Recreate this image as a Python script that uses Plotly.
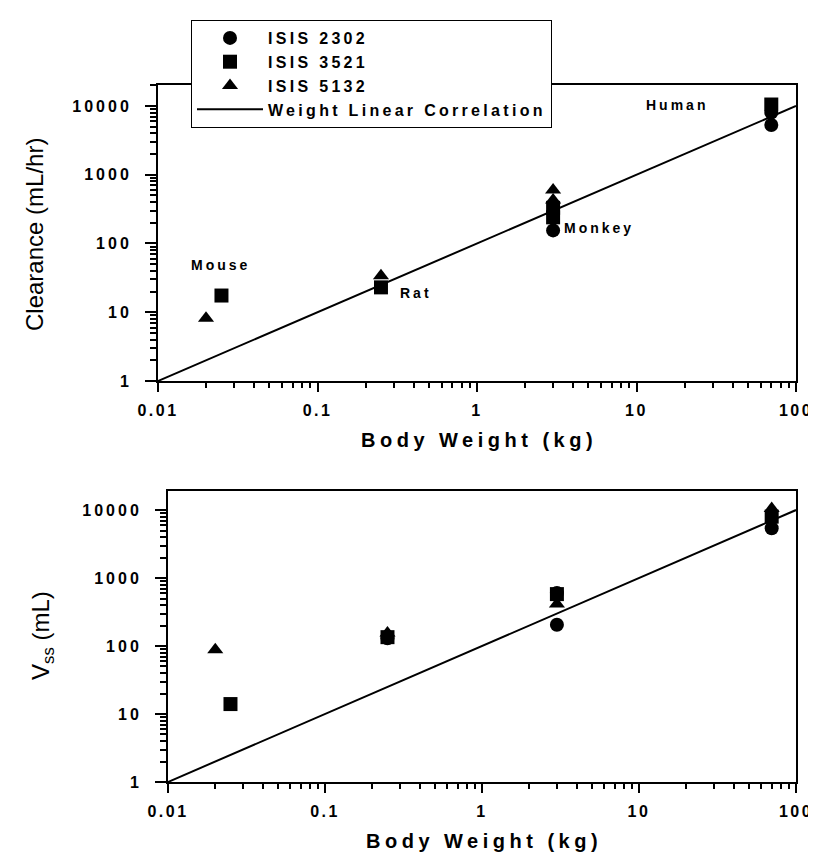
import plotly.graph_objects as go

FIG_W, FIG_H = 816, 852

# ---------------- data ----------------
# Clearance (mL/hr) vs body weight (kg)
cl_2302_w = [3, 70, 70]
cl_2302 = [155, 5300, 8000]
cl_3521_w = [0.025, 0.25, 3, 3, 70]
cl_3521 = [17.5, 23, 330, 240, 10500]
cl_5132_w = [0.02, 0.25, 3, 3]
cl_5132 = [8.2, 34, 600, 430]

# Vss (mL) vs body weight (kg)
vss_2302_w = [0.25, 3, 3, 70]
vss_2302 = [130, 205, 600, 5400]
vss_3521_w = [0.025, 0.25, 3, 70]
vss_3521 = [14, 135, 580, 8000]
vss_5132_w = [0.02, 0.25, 3, 70]
vss_5132 = [88, 155, 415, 10500]

# weight linear correlation line
corr_w = [0.01, 100]
corr_y = [1, 10000]

series_names = ["ISIS 2302", "ISIS 3521", "ISIS 5132"]
line_name = "Weight Linear Correlation"

x_tickvals = [0.01, 0.1, 1, 10, 100]
x_ticktext = ["0.01", "0.1", "1", "10", "100"]
y_tickvals = [1, 10, 100, 1000, 10000]
y_ticktext = ["1", "10", "100", "1000", "10000"]

species_labels = ["Mouse", "Rat", "Monkey", "Human"]

x_minor = [m * 10.0 ** e for e in range(-2, 2) for m in range(2, 10)]
y_minor = [m * 10.0 ** e for e in range(0, 5) for m in range(2, 10)]

# ---------------- helpers ----------------
def px(x):
    return x / FIG_W

def py(y):
    return 1 - y / FIG_H

def spaced(t, ls):
    return '<span style="letter-spacing:%spx">%s</span>' % (ls, t)

FONT = "Liberation Sans"
MS = 14

symbols = ["circle", "square", "triangle-up"]
cl_data = [(cl_2302_w, cl_2302), (cl_3521_w, cl_3521), (cl_5132_w, cl_5132)]
vss_data = [(vss_2302_w, vss_2302), (vss_3521_w, vss_3521), (vss_5132_w, vss_5132)]

fig = go.Figure()
for name, sym, (w, v) in zip(series_names, symbols, cl_data):
    fig.add_trace(go.Scatter(x=w, y=v, mode="markers", name=spaced(name, 3.3),
                             marker=dict(symbol=sym, size=MS, color="black"),
                             xaxis="x", yaxis="y", showlegend=True))
for name, sym, (w, v) in zip(series_names, symbols, vss_data):
    fig.add_trace(go.Scatter(x=w, y=v, mode="markers", name=name,
                             marker=dict(symbol=sym, size=MS, color="black"),
                             xaxis="x2", yaxis="y2", showlegend=False))

fig.add_trace(go.Scatter(x=corr_w, y=corr_y, mode="lines",
                         name=spaced(line_name, 3.3),
                         line=dict(color="black", width=2),
                         xaxis="x", yaxis="y", showlegend=True))
fig.add_trace(go.Scatter(x=corr_w, y=corr_y, mode="lines", name=line_name,
                         line=dict(color="black", width=2),
                         xaxis="x2", yaxis="y2", showlegend=False))

tick_font = dict(family=FONT, size=16, color="black", weight="bold")
x_tt = [spaced(t, 2.5) for t in x_ticktext]
y_tt = [spaced(t, 3) for t in y_ticktext]

def xaxis_cfg(domain, anchor):
    return dict(domain=domain, anchor=anchor, type="log", range=[-2, 2],
                tickvals=x_tickvals, ticktext=x_tt, tickfont=tick_font,
                ticks="outside", ticklen=9, tickwidth=2, tickcolor="black",
                minor=dict(ticks="outside", ticklen=5, tickwidth=1.5,
                           tickcolor="black", showgrid=False, tickvals=x_minor),
                showline=True, linewidth=2, linecolor="black", mirror=True,
                showgrid=False, zeroline=False, automargin=False,
                ticklabelstandoff=5)

def yaxis_cfg(domain, anchor, top):
    return dict(domain=domain, anchor=anchor, type="log", range=[0, top],
                tickvals=y_tickvals, ticktext=y_tt, tickfont=tick_font,
                ticks="outside", ticklen=11, tickwidth=2, tickcolor="black",
                minor=dict(ticks="outside", ticklen=6, tickwidth=1.5,
                           tickcolor="black", showgrid=False, tickvals=y_minor),
                showline=True, linewidth=2, linecolor="black", mirror=True,
                showgrid=False, zeroline=False, automargin=False,
                ticklabelstandoff=10)

fig.update_layout(
    width=FIG_W, height=FIG_H,
    margin=dict(l=0, r=0, t=0, b=0),
    paper_bgcolor="white", plot_bgcolor="white",
    xaxis=xaxis_cfg([px(150), px(788)], "y"),
    yaxis=yaxis_cfg([py(373), py(77)], "x", 4.305),
    xaxis2=xaxis_cfg([px(160), px(788)], "y2"),
    yaxis2=yaxis_cfg([py(774), py(483)], "x2", 4.28),
    legend=dict(x=px(183), y=py(12), xanchor="left", yanchor="top",
                bgcolor="white", bordercolor="black", borderwidth=1,
                font=dict(family=FONT, size=16, color="black", weight="bold"),
                itemwidth=66, tracegroupgap=0),
    showlegend=True,
)

ann_font = dict(family=FONT, size=14, color="black", weight="bold")
label_pos = [(212, 257), (408, 285), (591, 220), (669, 97)]
for txt, (x, y) in zip(species_labels, label_pos):
    fig.add_annotation(text=spaced(txt, 3), x=px(x), y=py(y), xref="paper", yref="paper",
                       showarrow=False, font=ann_font, xanchor="center", yanchor="middle")

title_font = dict(family=FONT, size=20, color="black", weight="bold")
fig.add_annotation(text=spaced("Body Weight (kg)", 4.5), x=px(471), y=py(432),
                   xref="paper", yref="paper", showarrow=False, font=title_font,
                   xanchor="center", yanchor="middle")
fig.add_annotation(text=spaced("Body Weight (kg)", 4.5), x=px(476), y=py(833),
                   xref="paper", yref="paper", showarrow=False, font=title_font,
                   xanchor="center", yanchor="middle")
ytitle_font = dict(family=FONT, size=24, color="black")
fig.add_annotation(text="Clearance (mL/hr)", x=px(26), y=py(227), xref="paper", yref="paper",
                   showarrow=False, font=ytitle_font, textangle=-90,
                   xanchor="center", yanchor="middle")
fig.add_annotation(text="V<sub>ss</sub> (mL)", x=px(34), y=py(628), xref="paper", yref="paper",
                   showarrow=False, font=ytitle_font, textangle=-90,
                   xanchor="center", yanchor="middle")

fig.write_html("out.html")
